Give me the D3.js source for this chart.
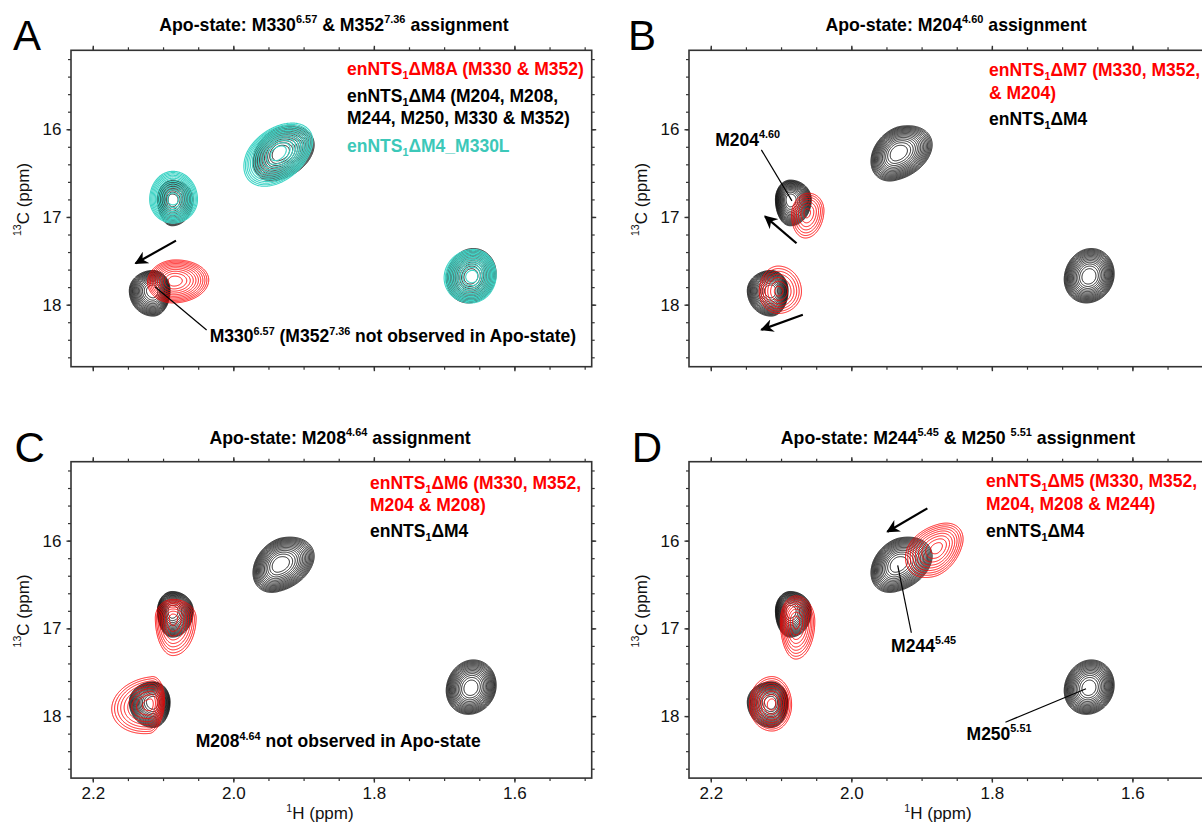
<!doctype html>
<meta charset="utf-8">
<script src="https://d3js.org/d3.v7.min.js"></script>
<style>
  body { margin: 0; background: #fff; }
  svg { font-family: Arial, "Liberation Sans", sans-serif; }
</style>
<body>
<svg width="1202" height="825"></svg>
<script>
// ---------------------------------------------------------------- //
// peaks: [1H ppm, 13C ppm, half-width to the left, to the right (1H ppm),
//         half-width upwards, downwards (13C ppm), tilt]
var peaksM4 = [
  [1.934, 16.27, 0.038, 0.049, 0.31, 0.32, 0.30],
  [2.087, 16.80, 0.021, 0.030, 0.22, 0.30, 0.00],
  [2.114, 17.84, 0.034, 0.024, 0.23, 0.29, 0.00],
  [1.662, 17.68, 0.035, 0.036, 0.32, 0.30, 0.10]
];
var peaksM8A = [
  [2.084, 17.73, 0.038, 0.049, 0.24, 0.25, 0.05]
];
var peaksM330L = [
  [1.936, 16.27, 0.049, 0.049, 0.34, 0.38, 0.40],
  [2.086, 16.80, 0.033, 0.035, 0.32, 0.27, 0.00],
  [1.660, 17.68, 0.040, 0.034, 0.31, 0.30, 0.05]
];
var peaksM7 = [
  [2.063, 16.95, 0.022, 0.024, 0.22, 0.29, 0.10],
  [2.104, 17.85, 0.027, 0.033, 0.29, 0.25, 0.00]
];
var peaksM6 = [
  [2.086, 16.88, 0.025, 0.033, 0.21, 0.43, 0.00],
  [2.118, 17.87, 0.055, 0.020, 0.32, 0.33, 0.15]
];
var peaksM5 = [
  [1.878, 16.08, 0.045, 0.037, 0.28, 0.34, 0.35],
  [2.079, 16.92, 0.022, 0.027, 0.29, 0.43, 0.00],
  [2.113, 17.87, 0.032, 0.028, 0.32, 0.30, 0.00]
];

var xTicks = [2.2, 2.0, 1.8, 1.6];
var xMinor = [2.2, 2.15, 2.1, 2.05, 2.0, 1.95, 1.9, 1.85, 1.8, 1.75, 1.7, 1.65, 1.6, 1.55, 1.5];
var yTicks = [16, 17, 18];
var yMinor = [15.2, 15.4, 15.6, 15.8, 16, 16.2, 16.4, 16.6, 16.8, 17, 17.2, 17.4, 17.6, 17.8, 18, 18.2, 18.4, 18.6];

var RED = "#ff0000", BLACK = "#000000", CYAN = "#40d4c6";

var svg = d3.select("svg");
var boxW = 520.7, boxH = 316.4;

var panels = [
  { letter: "A", lx: 13, ly: 49.5, left: 71, top: 50.3, tx: 334, ty: 31, xLabels: false,
    title: [["Apo-state: M330"], ["6.57", "sup"], [" & M352"], ["7.36", "sup"], [" assignment"]],
    series: [
      { peaks: peaksM4, color: BLACK, n: 16, p: 3 },
      { peaks: peaksM8A, color: RED, n: 11, p: 2.6 },
      { peaks: peaksM330L, color: CYAN, n: 13, p: 2.6 }
    ],
    legend: { x: 276, lines: [
      { y: 25, color: RED, parts: [["enNTS"], ["1", "sub"], ["ΔM8A (M330 & M352)"]] },
      { y: 51.5, color: BLACK, parts: [["enNTS"], ["1", "sub"], ["ΔM4 (M204, M208,"]] },
      { y: 74, color: BLACK, parts: [["M244, M250, M330 & M352)"]] },
      { y: 101.5, color: "#3cc8b9", parts: [["enNTS"], ["1", "sub"], ["ΔM4_M330L"]] }
    ] },
    notes: [
      { type: "arrow", from: [2.0816, 17.27], to: [2.139, 17.528] },
      { type: "line", from: [2.1116, 17.795], to: [2.038, 18.289] },
      { type: "text", at: [2.0335, 18.43],
        parts: [["M330"], ["6.57", "sup"], [" (M352"], ["7.36", "sup"], [" not observed in Apo-state)"]] }
    ] },
  { letter: "B", lx: 628, ly: 49.5, left: 689, top: 50.3, tx: 956, ty: 31, xLabels: false,
    title: [["Apo-state: M204"], ["4.60", "sup"], [" assignment"]],
    series: [
      { peaks: peaksM4, color: BLACK, n: 16, p: 3 },
      { peaks: peaksM7, color: RED, n: 7, p: 2.4 }
    ],
    legend: { x: 300, lines: [
      { y: 26, color: RED, parts: [["enNTS"], ["1", "sub"], ["ΔM7 (M330, M352,"]] },
      { y: 49, color: RED, parts: [["& M204)"]] },
      { y: 75, color: BLACK, parts: [["enNTS"], ["1", "sub"], ["ΔM4"]] }
    ] },
    notes: [
      { type: "text", at: [2.1937, 16.191], parts: [["M204"], ["4.60", "sup"]] },
      { type: "line", from: [2.128, 16.235], to: [2.0845, 16.816] },
      { type: "arrow", from: [2.078, 17.30], to: [2.1228, 16.994] },
      { type: "arrow", from: [2.069, 18.114], to: [2.128, 18.285] }
    ] },
  { letter: "C", lx: 14.5, ly: 461.5, left: 71, top: 461.7, tx: 340, ty: 444, xLabels: true,
    title: [["Apo-state: M208"], ["4.64", "sup"], [" assignment"]],
    series: [
      { peaks: peaksM4, color: BLACK, n: 16, p: 3 },
      { peaks: peaksM6, color: RED, n: 9, p: 2.4 }
    ],
    legend: { x: 299, lines: [
      { y: 27.5, color: RED, parts: [["enNTS"], ["1", "sub"], ["ΔM6 (M330, M352,"]] },
      { y: 49.5, color: RED, parts: [["M204 & M208)"]] },
      { y: 75.5, color: BLACK, parts: [["enNTS"], ["1", "sub"], ["ΔM4"]] }
    ] },
    notes: [
      { type: "text", at: [2.0535, 18.357],
        parts: [["M208"], ["4.64", "sup"], [" not observed in Apo-state"]] }
    ] },
  { letter: "D", lx: 631.7, ly: 461.5, left: 689, top: 461.7, tx: 958, ty: 444, xLabels: true,
    title: [["Apo-state: M244"], ["5.45", "sup"], [" & M250 "], ["5.51", "sup"], [" assignment"]],
    series: [
      { peaks: peaksM4, color: BLACK, n: 16, p: 3 },
      { peaks: peaksM5, color: RED, n: 9, p: 2.4 }
    ],
    legend: { x: 297, lines: [
      { y: 25.5, color: RED, parts: [["enNTS"], ["1", "sub"], ["ΔM5 (M330, M352,"]] },
      { y: 48.5, color: RED, parts: [["M204, M208 & M244)"]] },
      { y: 75, color: BLACK, parts: [["enNTS"], ["1", "sub"], ["ΔM4"]] }
    ] },
    notes: [
      { type: "arrow", from: [1.8918, 15.632], to: [1.9487, 15.898] },
      { type: "line", from: [1.934, 16.281], to: [1.9146, 17.05] },
      { type: "text", at: [1.9434, 17.266], parts: [["M244"], ["5.45", "sup"]] },
      { type: "line", from: [1.666, 17.689], to: [1.7807, 18.07] },
      { type: "text", at: [1.836, 18.273], parts: [["M250"], ["5.51", "sup"]] }
    ] }
];

// arrow head
svg.append("defs").append("marker")
  .attr("id", "head")
  .attr("viewBox", "0 0 10 10")
  .attr("refX", 9).attr("refY", 5)
  .attr("markerWidth", 6).attr("markerHeight", 6)
  .attr("markerUnits", "strokeWidth")
  .attr("orient", "auto")
  .append("path")
  .attr("d", "M0,0 L10,5 L0,10 L3,5 Z")
  .attr("fill", "#000");

// --------------------------------------------------------------- //
// text with sub- and superscripts
function richText(sel, parts, size) {
  var t = sel.append("text").attr("font-size", size);
  var shift = 0;
  parts.forEach(function (pt) {
    var kind = pt[1] || "n";
    var target = kind === "sup" ? -0.43 * size : kind === "sub" ? 0.22 * size : 0;
    var ts = t.append("tspan").attr("dy", target - shift).text(pt[0]);
    if (kind !== "n") ts.attr("font-size", size * 0.62);
    shift = target;
  });
  return t;
}

// --------------------------------------------------------------- //
// intensity grid for one spectrum, contoured with d3.contours
function spectrumContours(peaks, x, y, p, n) {
  var w = Math.ceil(boxW), h = Math.ceil(boxH);
  var K = Math.log(1 / 0.04);
  var vals = new Float64Array(w * h);
  for (var j = 0; j < h; j++) {
    var C = y.invert(j + 0.5);
    for (var i = 0; i < w; i++) {
      var H = x.invert(i + 0.5), s = 0;
      for (var k = 0; k < peaks.length; k++) {
        var pk = peaks[k];
        var u = (H - pk[0]) / (H > pk[0] ? pk[2] : pk[3]);
        var v = (C - pk[1]) / (C < pk[1] ? pk[4] : pk[5]);
        if (Math.abs(u) > 3 || Math.abs(v) > 3) continue;
        var r = pk[6];
        var q = (u * u - 2 * r * u * v + v * v) / (1 - r * r);
        s += Math.exp(-K * Math.pow(q, p / 2));
      }
      vals[j * w + i] = s;
    }
  }
  var tMin = 0.08;
  var thresholds = d3.range(n).map(function (k) {
    var t = 1 - k * (1 - tMin) / (n - 1);
    return Math.exp(-K * Math.pow(t, 1.5));
  });
  return d3.contours().size([w, h]).thresholds(thresholds)(vals);
}

// --------------------------------------------------------------- //
panels.forEach(function (pn) {
  var x = d3.scaleLinear().domain([2.231, 1.490]).range([0, boxW]);
  var y = d3.scaleLinear().domain([15.10, 18.707]).range([0, boxH]);
  var g = svg.append("g").attr("transform", "translate(" + pn.left + "," + pn.top + ")");

  // panel letter and title
  svg.append("text")
    .attr("x", pn.lx).attr("y", pn.ly)
    .attr("font-size", 42)
    .text(pn.letter);
  richText(svg, pn.title, 17.7)
    .attr("x", pn.tx).attr("y", pn.ty)
    .attr("text-anchor", "middle")
    .attr("font-weight", "bold");

  // contours
  var path = d3.geoPath();
  pn.series.forEach(function (s) {
    var cs = spectrumContours(s.peaks, x, y, s.p, s.n);
    g.append("g")
      .selectAll("path")
      .data(cs)
      .join("path")
      .attr("d", path)
      .attr("fill", "none")
      .attr("stroke", s.color)
      .attr("stroke-width", s.color === BLACK ? 0.85 : s.color === CYAN ? 1.1 : 0.9);
  });

  // axes: ticks outwards on all four sides
  var mk = function (axis, vals, size) {
    return axis.tickValues(vals).tickSize(size).tickFormat("");
  };
  var axes = [
    [d3.axisTop(x), "translate(0,0)", xMinor, xTicks],
    [d3.axisBottom(x), "translate(0," + boxH + ")", xMinor, xTicks],
    [d3.axisLeft(y), "translate(0,0)", yMinor, yTicks],
    [d3.axisRight(y), "translate(" + boxW + ",0)", yMinor, yTicks]
  ];
  axes.forEach(function (a) {
    var ga = g.append("g").attr("transform", a[1]).call(mk(a[0], a[2], 3));
    ga.select(".domain").remove();
    ga.selectAll("line").attr("stroke", "#333").attr("stroke-width", 1.2);
  });
  axes.forEach(function (a) {
    var ga = g.append("g").attr("transform", a[1]).call(mk(a[0], a[3], 4.5));
    ga.select(".domain").remove();
    ga.selectAll("line").attr("stroke", "#333").attr("stroke-width", 1.4);
  });

  // y tick labels
  var yl = g.append("g").call(d3.axisLeft(y).tickValues(yTicks).tickSize(4.5).tickPadding(5).tickFormat(d3.format("d")));
  yl.select(".domain").remove();
  yl.selectAll("line").remove();
  yl.selectAll("text").attr("font-size", 17).attr("font-family", null).attr("fill", "#111");

  if (pn.xLabels) {
    var xl = g.append("g").attr("transform", "translate(0," + boxH + ")")
      .call(d3.axisBottom(x).tickValues(xTicks).tickSize(4.5).tickPadding(4.5).tickFormat(d3.format(".1f")));
    xl.select(".domain").remove();
    xl.selectAll("line").remove();
    xl.selectAll("text").attr("font-size", 17).attr("font-family", null).attr("fill", "#111");

    richText(g, [["1", "sup"], ["H (ppm)"]], 17)
      .attr("x", 249).attr("y", boxH + 41.3)
      .attr("text-anchor", "middle").attr("fill", "#111");
  }

  // y axis title
  richText(g, [["13", "sup"], ["C (ppm)"]], 17)
    .attr("text-anchor", "middle").attr("fill", "#111")
    .attr("transform", "translate(-42.4," + (boxH / 2 - 9) + ") rotate(-90)");

  // box
  g.append("rect")
    .attr("width", boxW).attr("height", boxH)
    .attr("fill", "none").attr("stroke", "#333").attr("stroke-width", 1.6);

  // legend
  pn.legend.lines.forEach(function (ln) {
    richText(g, ln.parts, 17.5)
      .attr("x", pn.legend.x).attr("y", ln.y)
      .attr("font-weight", "bold").attr("fill", ln.color);
  });

  // annotations
  pn.notes.forEach(function (nt) {
    if (nt.type === "text") {
      richText(g, nt.parts, 17.5)
        .attr("x", x(nt.at[0])).attr("y", y(nt.at[1]))
        .attr("font-weight", "bold");
    } else {
      var ln = g.append("line")
        .attr("x1", x(nt.from[0])).attr("y1", y(nt.from[1]))
        .attr("x2", x(nt.to[0])).attr("y2", y(nt.to[1]))
        .attr("stroke", "#000");
      if (nt.type === "arrow") ln.attr("stroke-width", 2.2).attr("marker-end", "url(#head)");
      else ln.attr("stroke-width", 1.2);
    }
  });
});
</script>
</body>
